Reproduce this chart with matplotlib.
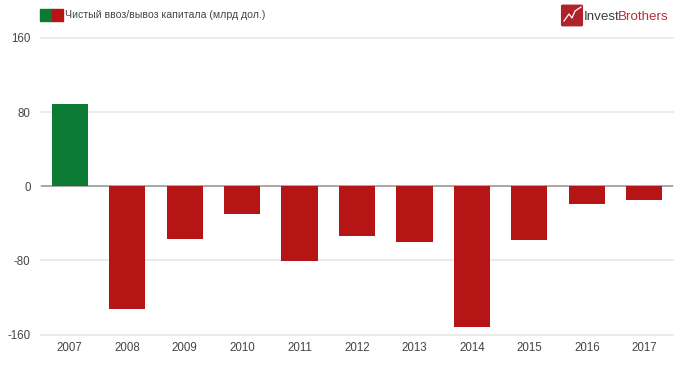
import matplotlib
matplotlib.use("Agg")
import matplotlib.pyplot as plt
from matplotlib.patches import Rectangle, FancyBboxPatch

years = ["2007", "2008", "2009", "2010", "2011", "2012", "2013", "2014", "2015", "2016", "2017"]
values = [88.5, -133, -57, -30, -81, -54, -60, -152, -58, -19, -15]
yticks = [-160, -80, 0, 80, 160]
legend_label = "Чистый ввоз/вывоз капитала (млрд дол.)"

GREEN = "#0b7a32"
RED = "#b51514"
W, H = 680, 367

plt.rcParams["font.family"] = ["Liberation Sans", "DejaVu Sans"]
fig = plt.figure(figsize=(W / 100, H / 100), dpi=100)
ax = fig.add_axes([41 / W, 1 - 334.5 / H, (673 - 41) / W, (334.5 - 38) / H])

colors = [GREEN if v >= 0 else RED for v in values]
ax.bar(range(len(years)), values, width=0.63, color=colors, zorder=3)

ax.set_xlim(-0.5, len(years) - 0.5)
ax.set_ylim(-160, 160)
ax.set_yticks(yticks)
ax.set_yticklabels([str(t) for t in yticks])
ax.set_xticks(range(len(years)))
ax.set_xticklabels(years)
ax.tick_params(length=0, labelsize=8.3, labelcolor="#444444")
ax.tick_params(axis="y", pad=7.5)
ax.tick_params(axis="x", pad=5.5)
ax.grid(axis="y", color="#e9e9e9", lw=1.3, zorder=0, clip_on=False)
ax.axhline(0, color="#a8a8a8", lw=1.4, zorder=2)
for s in ax.spines.values():
    s.set_visible(False)

# legend swatch, half green half red
fig.add_artist(Rectangle((40 / W, 1 - 21 / H), 12 / W, 12 / H, color=GREEN, transform=fig.transFigure))
fig.add_artist(Rectangle((52 / W, 1 - 21 / H), 11 / W, 12 / H, color=RED, transform=fig.transFigure))
fig.text(65 / W, 1 - 15.5 / H, legend_label, fontsize=7.6, color="#444444", va="center")

# logo
fig.add_artist(FancyBboxPatch((563 / W, 1 - 25 / H), 18 / W, 19 / H,
                              boxstyle="round,pad=0.002", color="#b0222a", transform=fig.transFigure))
zig_x = [564, 569, 572, 575, 581]
zig_y = [21, 14, 18, 11, 7]
fig.add_artist(plt.Line2D([x / W for x in zig_x], [1 - y / H for y in zig_y], color="white", lw=0.9,
                          transform=fig.transFigure))
fig.text(583.5 / W, 1 - 17 / H, "Invest", fontsize=9.6, color="#3c3c3c", va="center")
fig.text(617.5 / W, 1 - 17 / H, "Brothers", fontsize=9.6, color="#b5303a", va="center")

fig.savefig("out.png", dpi=100)
